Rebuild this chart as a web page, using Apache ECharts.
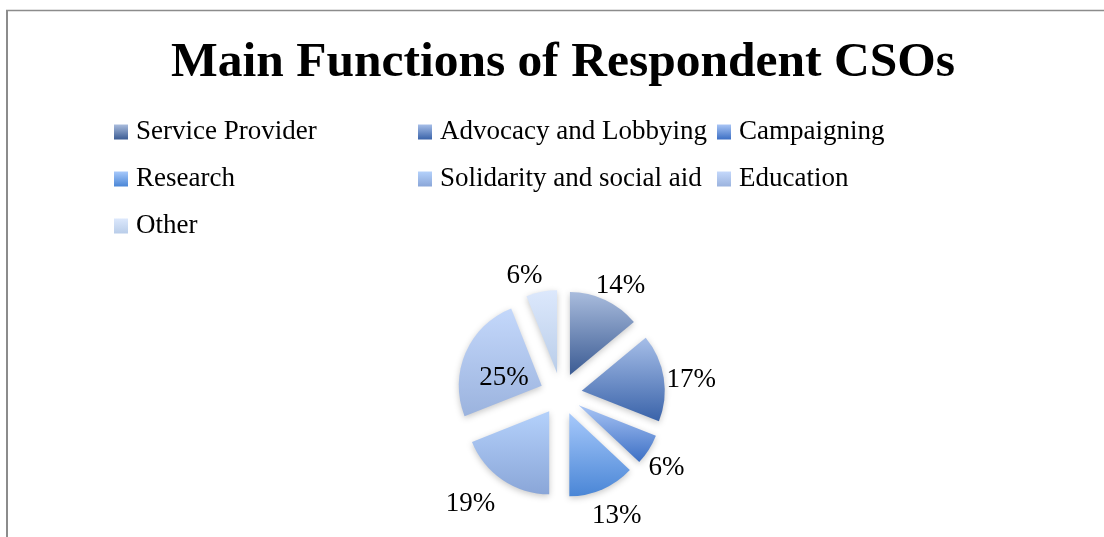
<!DOCTYPE html>
<html>
<head>
<meta charset="utf-8">
<script src="https://cdn.jsdelivr.net/npm/echarts@6/dist/echarts.min.js"></script>
<style>
  html, body { margin: 0; padding: 0; background: #ffffff; }
  #chart { width: 1104px; height: 537px; }
</style>
</head>
<body>
<div id="chart"></div>
<script>
// Survey results: share of respondent CSOs by main function (percent)
const categories = [
  'Service Provider',
  'Advocacy and Lobbying',
  'Campaigning',
  'Research',
  'Solidarity and social aid',
  'Education',
  'Other'
];
const shares = [14, 17, 6, 13, 19, 25, 6];

// Slice gradient stops, top colour then bottom colour
const topColors = ['#a9bcdd', '#a6bee8', '#a9c5f5', '#a7c9fb', '#b4d1fb', '#c4d8fb', '#dce8fc'];
const bottomColors = ['#3b5b93', '#3a63a9', '#3c6fc4', '#4a86d6', '#8aa6d8', '#9bb3de', '#b9cde9'];

// Legend columns (indices into categories)
const legendColumns = [[0, 3, 6], [1, 4], [2, 5]];

const FONT = '"Liberation Serif", "DejaVu Serif", serif';
const INSIDE_LABEL = 'Education';

function gradient(i) {
  return new echarts.graphic.LinearGradient(0, 0, 0, 1, [
    { offset: 0, color: topColors[i] },
    { offset: 1, color: bottomColors[i] }
  ]);
}

const pieData = categories.map((name, i) => {
  const item = {
    name: name,
    value: shares[i],
    selected: true,
    itemStyle: { color: gradient(i) }
  };
  if (name === INSIDE_LABEL) {
    // the widest slice carries its label inside
    item.label = { position: 'inside', padding: [0, 0, 0, 6] };
  }
  return item;
});

const columnLeft = [109, 413, 712];
const legends = legendColumns.map((col, c) => ({
  orient: 'vertical',
  left: columnLeft[c],
  top: 111,
  itemGap: 15,
  itemWidth: 14,
  itemHeight: 15,
  icon: 'rect',
  selectedMode: false,
  data: col.map(i => categories[i]),
  textStyle: {
    fontFamily: FONT,
    fontSize: 27,
    lineHeight: 32,
    color: '#000000',
    padding: [0, 0, 0, 3]
  }
}));

const chart = echarts.init(document.getElementById('chart'), null, { renderer: 'canvas' });
chart.setOption({
  animation: false,
  backgroundColor: '#ffffff',
  title: {
    text: 'Main Functions of Respondent CSOs',
    left: 558,
    textAlign: 'center',
    top: 33,
    textStyle: {
      fontFamily: FONT,
      fontSize: 49.5,
      fontWeight: 'bold',
      color: '#000000'
    }
  },
  legend: legends,
  graphic: [
    {
      type: 'line',
      shape: { x1: 7, y1: 10, x2: 7, y2: 537 },
      style: { stroke: '#8c8c8c', lineWidth: 2 }
    },
    {
      type: 'line',
      shape: { x1: 6, y1: 10.5, x2: 1104, y2: 10.5 },
      style: { stroke: '#8c8c8c', lineWidth: 1.5 }
    }
  ],
  series: [
    {
      type: 'pie',
      center: [561, 394],
      radius: [0, 83],
      startAngle: 90,
      clockwise: true,
      selectedMode: 'multiple',
      selectedOffset: 21,
      avoidLabelOverlap: false,
      silent: true,
      emphasis: { disabled: true },
      itemStyle: {
        shadowBlur: 6,
        shadowOffsetY: 2,
        shadowColor: 'rgba(0,0,0,0.22)'
      },
      label: {
        show: true,
        position: 'outside',
        formatter: '{c}%',
        fontFamily: FONT,
        fontSize: 27,
        color: '#000000',
        padding: [0, 14, 0, 0],
        distanceToLabelLine: -19
      },
      labelLine: { show: false, length: 22, length2: 0 },
      labelLayout: function (params) {
        const inside = categories[params.dataIndex] === INSIDE_LABEL;
        return { dy: inside ? 10 : 6 };
      },
      data: pieData
    }
  ]
});
</script>
</body>
</html>
